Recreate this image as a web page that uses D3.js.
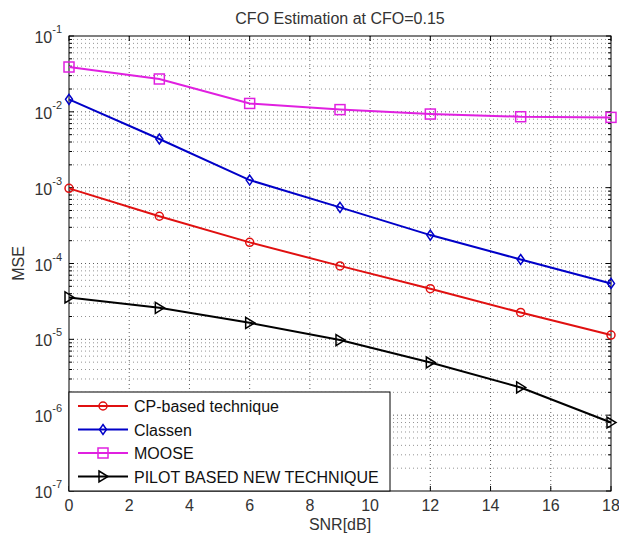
<!DOCTYPE html>
<html>
<head>
<meta charset="utf-8">
<script src="https://cdn.jsdelivr.net/npm/d3@7"></script>
<style>
  body { margin: 0; background: #fff; }
  svg { display: block; font-family: "Liberation Sans", Arial, sans-serif; }
</style>
</head>
<body>
<svg id="chart" width="619" height="539"></svg>
<script>
const snr = [0, 3, 6, 9, 12, 15, 18];
const cpBased = [9.8e-4, 4.2e-4, 1.9e-4, 9.3e-5, 4.65e-5, 2.26e-5, 1.14e-5];
const classen = [1.46e-2, 4.38e-3, 1.26e-3, 5.5e-4, 2.37e-4, 1.13e-4, 5.46e-5];
const moose = [3.9e-2, 2.71e-2, 1.29e-2, 1.07e-2, 9.35e-3, 8.62e-3, 8.45e-3];
const pilot = [3.57e-5, 2.6e-5, 1.65e-5, 9.77e-6, 4.95e-6, 2.32e-6, 8.0e-7];
const xTicks = [0, 2, 4, 6, 8, 10, 12, 14, 16, 18];
const yDecades = [-7, -6, -5, -4, -3, -2, -1];

const series = [
  { name: "CP-based technique", values: cpBased, color: "#e01010", marker: "circle" },
  { name: "Classen", values: classen, color: "#0000c8", marker: "diamond" },
  { name: "MOOSE", values: moose, color: "#e020e0", marker: "square" },
  { name: "PILOT BASED NEW TECHNIQUE", values: pilot, color: "#000000", marker: "triangle" },
];

const svg = d3.select("#chart");
const margin = { left: 69, right: 8, top: 36, bottom: 48 };
const width = 619 - margin.left - margin.right;
const height = 539 - margin.top - margin.bottom;
const textColor = "#333";

const x = d3.scaleLinear().domain([0, 18]).range([0, width]);
const y = d3.scaleLog().domain([1e-7, 1e-1]).range([height, 0]);

const g = svg.append("g").attr("transform", `translate(${margin.left},${margin.top})`);

// minor log values
const minor = [];
yDecades.slice(0, -1).forEach((e) => {
  for (let k = 2; k <= 9; k++) minor.push(k * Math.pow(10, e));
});

// grid
const grid = g.append("g").attr("stroke", "#333").attr("stroke-dasharray", "1,3").attr("stroke-width", 0.8);
grid.selectAll("line.gx").data(xTicks.slice(1, -1)).join("line")
  .attr("x1", (d) => x(d)).attr("x2", (d) => x(d)).attr("y1", 0).attr("y2", height);
grid.selectAll("line.gy").data(yDecades.slice(1, -1).map((e) => Math.pow(10, e))).join("line")
  .attr("x1", 0).attr("x2", width).attr("y1", (d) => y(d)).attr("y2", (d) => y(d));
grid.selectAll("line.gm").data(minor).join("line")
  .attr("x1", 0).attr("x2", width).attr("y1", (d) => y(d)).attr("y2", (d) => y(d))
  .attr("stroke", "#777");

// ticks inward on all sides
const ticks = g.append("g").attr("stroke", "#000").attr("stroke-width", 1);
xTicks.forEach((t) => {
  ticks.append("line").attr("x1", x(t)).attr("x2", x(t)).attr("y1", height).attr("y2", height - 5);
  ticks.append("line").attr("x1", x(t)).attr("x2", x(t)).attr("y1", 0).attr("y2", 5);
});
yDecades.forEach((e) => {
  const v = Math.pow(10, e);
  ticks.append("line").attr("x1", 0).attr("x2", 5).attr("y1", y(v)).attr("y2", y(v));
  ticks.append("line").attr("x1", width).attr("x2", width - 5).attr("y1", y(v)).attr("y2", y(v));
});
minor.forEach((v) => {
  ticks.append("line").attr("x1", 0).attr("x2", 3).attr("y1", y(v)).attr("y2", y(v));
  ticks.append("line").attr("x1", width).attr("x2", width - 3).attr("y1", y(v)).attr("y2", y(v));
});

// frame
g.append("rect").attr("width", width).attr("height", height)
  .attr("fill", "none").attr("stroke", "#000").attr("stroke-width", 1);

// x tick labels
g.selectAll("text.xt").data(xTicks).join("text")
  .attr("x", (d) => x(d)).attr("y", height + 20)
  .attr("text-anchor", "middle").attr("font-size", 16).attr("fill", textColor)
  .text((d) => d);

// y tick labels with superscripts
yDecades.forEach((e) => {
  const t = g.append("text").attr("x", -7).attr("y", y(Math.pow(10, e)) + 7)
    .attr("text-anchor", "end").attr("font-size", 16).attr("fill", textColor);
  t.append("tspan").text("10");
  t.append("tspan").attr("font-size", 11).attr("dy", -10).text(e);
});

// axis labels and title
svg.append("text").attr("x", margin.left + width / 2).attr("y", 530)
  .attr("text-anchor", "middle").attr("font-size", 16).attr("fill", textColor).text("SNR[dB]");
svg.append("text").attr("transform", `translate(24,${margin.top + height / 2}) rotate(-90)`)
  .attr("text-anchor", "middle").attr("font-size", 16).attr("fill", textColor).text("MSE");
svg.append("text").attr("x", margin.left + width / 2).attr("y", 24)
  .attr("text-anchor", "middle").attr("font-size", 16).attr("fill", textColor)
  .text("CFO Estimation at CFO=0.15");

function drawMarker(sel, type, color) {
  if (type === "circle") {
    sel.append("circle").attr("r", 4).attr("fill", "none").attr("stroke", color).attr("stroke-width", 1.5);
  } else if (type === "diamond") {
    sel.append("path").attr("d", "M0,-5L3.5,0L0,5L-3.5,0Z").attr("fill", "none").attr("stroke", color).attr("stroke-width", 1.5);
  } else if (type === "square") {
    sel.append("rect").attr("x", -5).attr("y", -5).attr("width", 10).attr("height", 10)
      .attr("fill", "none").attr("stroke", color).attr("stroke-width", 1.5);
  } else {
    sel.append("path").attr("d", "M-4,-5.5L5,0L-4,5.5Z").attr("fill", "none").attr("stroke", color).attr("stroke-width", 1.5);
  }
}

const line = d3.line().x((d, i) => x(snr[i])).y((d) => y(d));
series.forEach((s) => {
  g.append("path").datum(s.values).attr("d", line)
    .attr("fill", "none").attr("stroke", s.color).attr("stroke-width", 2);
  s.values.forEach((v, i) => {
    drawMarker(g.append("g").attr("transform", `translate(${x(snr[i])},${y(v)})`), s.marker, s.color);
  });
});

// legend
const lg = g.append("g").attr("transform", `translate(0,${height - 99})`);
lg.append("rect").attr("width", 321).attr("height", 99)
  .attr("fill", "#fff").attr("stroke", "#000").attr("stroke-width", 1);
series.forEach((s, i) => {
  const row = lg.append("g").attr("transform", `translate(0,${14 + i * 23.5})`);
  row.append("line").attr("x1", 9).attr("x2", 59).attr("stroke", s.color).attr("stroke-width", 2);
  drawMarker(row.append("g").attr("transform", "translate(34,0)"), s.marker, s.color);
  row.append("text").attr("x", 65).attr("y", 6).attr("font-size", 16).attr("fill", "#111").text(s.name);
});
</script>
</body>
</html>
